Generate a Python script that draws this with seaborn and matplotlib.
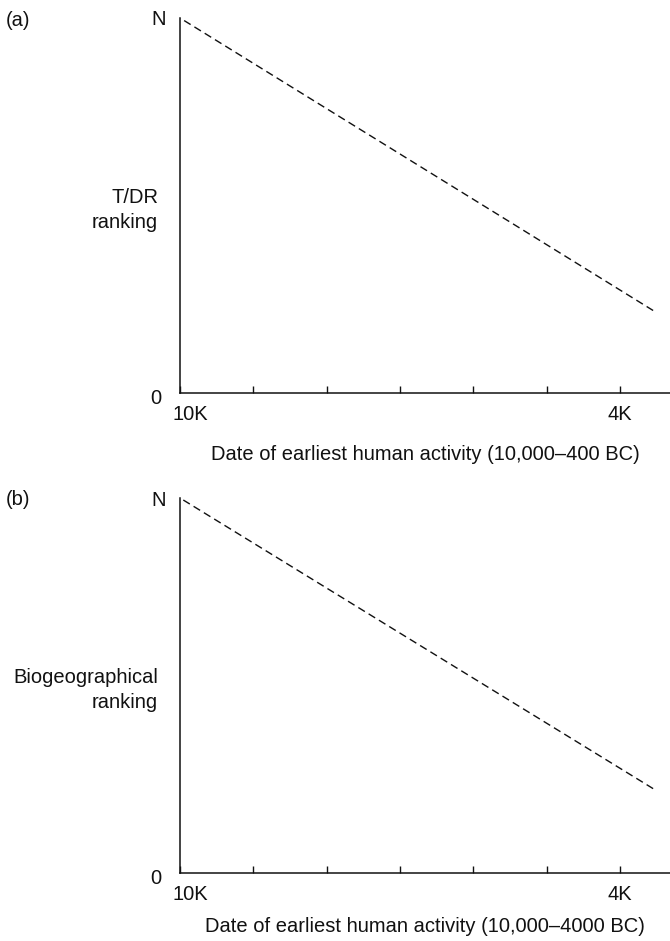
import matplotlib
matplotlib.use("Agg")
import matplotlib.pyplot as plt
import matplotlib.transforms as mtransforms
import seaborn as sns
import pandas as pd

# Date of earliest human activity, in thousands of years BC
dates_k = [10.0, 3.55]
# Ranking, as a fraction of N
tdr_rank = [1.0, 0.22]
bio_rank = [1.0, 0.225]

tick_dates = [10, 9, 8, 7, 6, 5, 4]
tick_labels = ["10K", "", "", "", "", "", "4K"]

panels = [
    ("(a)", "T/DR\nranking", "Date of earliest human activity (10,000\u2013400 BC)", tdr_rank),
    ("(b)", "Biogeographical\nranking", "Date of earliest human activity (10,000\u20134000 BC)", bio_rank),
]

sns.set_style("ticks")
plt.rcParams["font.family"] = ["Liberation Sans", "DejaVu Sans"]
FS = 14.5
plt.rcParams["font.size"] = FS

W, H = 670, 941
fig = plt.figure(figsize=(W / 100, H / 100), dpi=100)

# axes boxes in pixels: (left, top, right, bottom)
boxes = [(180, 18, 670, 393), (180, 498, 670, 873)]
xlabel_gap = [62, 53]

for (tag, ylab, xlab, ranks), (l, t, r, b), gap in zip(panels, boxes, xlabel_gap):
    ax = fig.add_axes([l / W, 1 - b / H, (r - l) / W, (b - t) / H])
    df = pd.DataFrame({"date": dates_k, "rank": ranks})
    sns.lineplot(data=df, x="date", y="rank", ax=ax, color="#111111",
                 lw=1.0, linestyle=(0, (5.5, 3.2)))
    ax.set_xlim(10, 3.32)
    ax.set_ylim(0, 1)
    sns.despine(ax=ax)
    for s in ("left", "bottom"):
        ax.spines[s].set_linewidth(1.1)
        ax.spines[s].set_color("#111111")

    ax.set_xticks(tick_dates)
    ax.set_xticklabels(tick_labels)
    ax.tick_params(axis="x", direction="in", length=5, width=1.0, pad=9,
                   labelsize=FS, colors="#111111")
    # nudge the first tick label to the right
    lbl = ax.get_xticklabels()[0]
    lbl.set_transform(lbl.get_transform() + mtransforms.ScaledTranslation(10 / 100, 0, fig.dpi_scale_trans))

    ax.set_yticks([0, 1])
    ax.set_yticklabels(["0", "N"])
    ax.tick_params(axis="y", length=0, pad=10, labelsize=FS, colors="#111111")
    ylbls = ax.get_yticklabels()
    ylbls[0].set_transform(ylbls[0].get_transform() + mtransforms.ScaledTranslation(-5 / 100, -4 / 100, fig.dpi_scale_trans))

    ax.set_xlabel(xlab, fontsize=FS, va="center", color="#111111")
    ax.xaxis.set_label_coords(0.5, -gap / (b - t))
    ax.set_ylabel("")

    fig.text(158 / W, 1 - (t + 192) / H, ylab, ha="right", va="center",
             fontsize=FS, linespacing=1.45, color="#111111")
    fig.text(6 / W, 1 - (t + 2) / H, tag, ha="left", va="center",
             fontsize=FS, color="#111111")

fig.savefig("out.png", dpi=100, facecolor="white")
